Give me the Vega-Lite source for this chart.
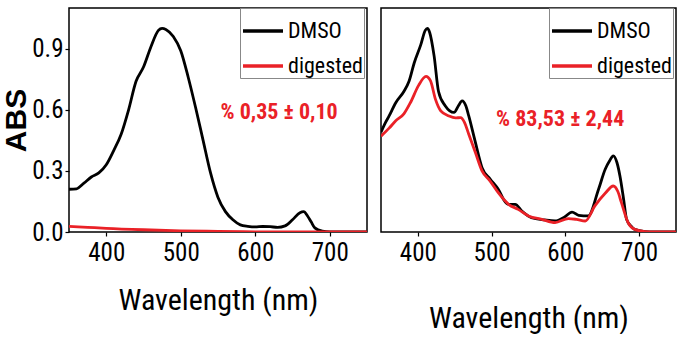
{
  "$schema": "https://vega.github.io/schema/vega-lite/v6.json",
  "padding": {"left": 0, "top": 6, "right": 0, "bottom": 0},
  "background": "white",
  "config": {
    "font": "Roboto Condensed, DejaVu Sans Condensed, Roboto",
    "view": {"stroke": "black", "strokeWidth": 1.5},
    "axis": {"labelFont": "Roboto Condensed, DejaVu Sans Condensed, Roboto", "titleFont": "Roboto Condensed, DejaVu Sans Condensed, Roboto", "labelColor": "black", "titleColor": "black", "domainColor": "black", "tickColor": "black", "grid": false, "labelOverlap": false, "labelFlush": false}
  },
  "datasets": {
    "spectra": [
      {"panel": "A", "series": "DMSO", "wl": 350, "abs": 0.21},
      {"panel": "A", "series": "DMSO", "wl": 360, "abs": 0.212},
      {"panel": "A", "series": "DMSO", "wl": 370, "abs": 0.24},
      {"panel": "A", "series": "DMSO", "wl": 380, "abs": 0.27},
      {"panel": "A", "series": "DMSO", "wl": 390, "abs": 0.29},
      {"panel": "A", "series": "DMSO", "wl": 400, "abs": 0.33},
      {"panel": "A", "series": "DMSO", "wl": 410, "abs": 0.40},
      {"panel": "A", "series": "DMSO", "wl": 420, "abs": 0.48},
      {"panel": "A", "series": "DMSO", "wl": 430, "abs": 0.60},
      {"panel": "A", "series": "DMSO", "wl": 440, "abs": 0.74},
      {"panel": "A", "series": "DMSO", "wl": 450, "abs": 0.81},
      {"panel": "A", "series": "DMSO", "wl": 460, "abs": 0.91},
      {"panel": "A", "series": "DMSO", "wl": 470, "abs": 0.99},
      {"panel": "A", "series": "DMSO", "wl": 475, "abs": 1.0},
      {"panel": "A", "series": "DMSO", "wl": 480, "abs": 0.995},
      {"panel": "A", "series": "DMSO", "wl": 490, "abs": 0.96},
      {"panel": "A", "series": "DMSO", "wl": 500, "abs": 0.89},
      {"panel": "A", "series": "DMSO", "wl": 510, "abs": 0.76},
      {"panel": "A", "series": "DMSO", "wl": 520, "abs": 0.61},
      {"panel": "A", "series": "DMSO", "wl": 530, "abs": 0.45},
      {"panel": "A", "series": "DMSO", "wl": 540, "abs": 0.29},
      {"panel": "A", "series": "DMSO", "wl": 550, "abs": 0.17},
      {"panel": "A", "series": "DMSO", "wl": 560, "abs": 0.10},
      {"panel": "A", "series": "DMSO", "wl": 570, "abs": 0.06},
      {"panel": "A", "series": "DMSO", "wl": 580, "abs": 0.035},
      {"panel": "A", "series": "DMSO", "wl": 590, "abs": 0.028},
      {"panel": "A", "series": "DMSO", "wl": 600, "abs": 0.025},
      {"panel": "A", "series": "DMSO", "wl": 610, "abs": 0.027},
      {"panel": "A", "series": "DMSO", "wl": 620, "abs": 0.026},
      {"panel": "A", "series": "DMSO", "wl": 630, "abs": 0.023},
      {"panel": "A", "series": "DMSO", "wl": 640, "abs": 0.03},
      {"panel": "A", "series": "DMSO", "wl": 650, "abs": 0.06},
      {"panel": "A", "series": "DMSO", "wl": 660, "abs": 0.095},
      {"panel": "A", "series": "DMSO", "wl": 665, "abs": 0.10},
      {"panel": "A", "series": "DMSO", "wl": 670, "abs": 0.08},
      {"panel": "A", "series": "DMSO", "wl": 675, "abs": 0.05},
      {"panel": "A", "series": "DMSO", "wl": 680, "abs": 0.02},
      {"panel": "A", "series": "DMSO", "wl": 690, "abs": 0.004},
      {"panel": "A", "series": "DMSO", "wl": 700, "abs": 0},
      {"panel": "A", "series": "DMSO", "wl": 750, "abs": 0},
      {"panel": "A", "series": "digested", "wl": 350, "abs": 0.028},
      {"panel": "A", "series": "digested", "wl": 375, "abs": 0.023},
      {"panel": "A", "series": "digested", "wl": 400, "abs": 0.018},
      {"panel": "A", "series": "digested", "wl": 450, "abs": 0.011},
      {"panel": "A", "series": "digested", "wl": 500, "abs": 0.006},
      {"panel": "A", "series": "digested", "wl": 550, "abs": 0.003},
      {"panel": "A", "series": "digested", "wl": 600, "abs": 0.001},
      {"panel": "A", "series": "digested", "wl": 650, "abs": 0},
      {"panel": "A", "series": "digested", "wl": 750, "abs": 0},
      {"panel": "B", "series": "DMSO", "wl": 350, "abs": 0.49},
      {"panel": "B", "series": "DMSO", "wl": 355, "abs": 0.53},
      {"panel": "B", "series": "DMSO", "wl": 361, "abs": 0.57},
      {"panel": "B", "series": "DMSO", "wl": 370, "abs": 0.635},
      {"panel": "B", "series": "DMSO", "wl": 381, "abs": 0.69},
      {"panel": "B", "series": "DMSO", "wl": 388, "abs": 0.74},
      {"panel": "B", "series": "DMSO", "wl": 395, "abs": 0.83},
      {"panel": "B", "series": "DMSO", "wl": 404, "abs": 0.92},
      {"panel": "B", "series": "DMSO", "wl": 410, "abs": 0.99},
      {"panel": "B", "series": "DMSO", "wl": 413, "abs": 1.0},
      {"panel": "B", "series": "DMSO", "wl": 416, "abs": 0.98},
      {"panel": "B", "series": "DMSO", "wl": 422, "abs": 0.865},
      {"panel": "B", "series": "DMSO", "wl": 428, "abs": 0.69},
      {"panel": "B", "series": "DMSO", "wl": 437, "abs": 0.62},
      {"panel": "B", "series": "DMSO", "wl": 449, "abs": 0.587},
      {"panel": "B", "series": "DMSO", "wl": 455, "abs": 0.62},
      {"panel": "B", "series": "DMSO", "wl": 460, "abs": 0.644},
      {"panel": "B", "series": "DMSO", "wl": 465, "abs": 0.62},
      {"panel": "B", "series": "DMSO", "wl": 469, "abs": 0.57},
      {"panel": "B", "series": "DMSO", "wl": 478, "abs": 0.44},
      {"panel": "B", "series": "DMSO", "wl": 487, "abs": 0.316},
      {"panel": "B", "series": "DMSO", "wl": 498, "abs": 0.26},
      {"panel": "B", "series": "DMSO", "wl": 509, "abs": 0.21},
      {"panel": "B", "series": "DMSO", "wl": 518, "abs": 0.15},
      {"panel": "B", "series": "DMSO", "wl": 523, "abs": 0.136},
      {"panel": "B", "series": "DMSO", "wl": 532, "abs": 0.136},
      {"panel": "B", "series": "DMSO", "wl": 541, "abs": 0.103},
      {"panel": "B", "series": "DMSO", "wl": 554, "abs": 0.07},
      {"panel": "B", "series": "DMSO", "wl": 572, "abs": 0.059},
      {"panel": "B", "series": "DMSO", "wl": 586, "abs": 0.054},
      {"panel": "B", "series": "DMSO", "wl": 599, "abs": 0.074},
      {"panel": "B", "series": "DMSO", "wl": 609, "abs": 0.098},
      {"panel": "B", "series": "DMSO", "wl": 618, "abs": 0.082},
      {"panel": "B", "series": "DMSO", "wl": 631, "abs": 0.079},
      {"panel": "B", "series": "DMSO", "wl": 645, "abs": 0.21},
      {"panel": "B", "series": "DMSO", "wl": 654, "abs": 0.308},
      {"panel": "B", "series": "DMSO", "wl": 660, "abs": 0.35},
      {"panel": "B", "series": "DMSO", "wl": 665, "abs": 0.374},
      {"panel": "B", "series": "DMSO", "wl": 670, "abs": 0.34},
      {"panel": "B", "series": "DMSO", "wl": 674, "abs": 0.275},
      {"panel": "B", "series": "DMSO", "wl": 679, "abs": 0.16},
      {"panel": "B", "series": "DMSO", "wl": 683, "abs": 0.062},
      {"panel": "B", "series": "DMSO", "wl": 690, "abs": 0.025},
      {"panel": "B", "series": "DMSO", "wl": 694, "abs": 0.013},
      {"panel": "B", "series": "DMSO", "wl": 708, "abs": 0.002},
      {"panel": "B", "series": "DMSO", "wl": 720, "abs": 0},
      {"panel": "B", "series": "DMSO", "wl": 750, "abs": 0},
      {"panel": "B", "series": "digested", "wl": 350, "abs": 0.47},
      {"panel": "B", "series": "digested", "wl": 361, "abs": 0.51},
      {"panel": "B", "series": "digested", "wl": 370, "abs": 0.546},
      {"panel": "B", "series": "digested", "wl": 381, "abs": 0.58},
      {"panel": "B", "series": "digested", "wl": 390, "abs": 0.636},
      {"panel": "B", "series": "digested", "wl": 401, "abs": 0.72},
      {"panel": "B", "series": "digested", "wl": 411, "abs": 0.764},
      {"panel": "B", "series": "digested", "wl": 417, "abs": 0.743},
      {"panel": "B", "series": "digested", "wl": 424, "abs": 0.65},
      {"panel": "B", "series": "digested", "wl": 431, "abs": 0.595},
      {"panel": "B", "series": "digested", "wl": 442, "abs": 0.57},
      {"panel": "B", "series": "digested", "wl": 451, "abs": 0.56},
      {"panel": "B", "series": "digested", "wl": 458, "abs": 0.562},
      {"panel": "B", "series": "digested", "wl": 463, "abs": 0.54},
      {"panel": "B", "series": "digested", "wl": 469, "abs": 0.48},
      {"panel": "B", "series": "digested", "wl": 478, "abs": 0.39},
      {"panel": "B", "series": "digested", "wl": 487, "abs": 0.30},
      {"panel": "B", "series": "digested", "wl": 498, "abs": 0.25},
      {"panel": "B", "series": "digested", "wl": 509, "abs": 0.193},
      {"panel": "B", "series": "digested", "wl": 523, "abs": 0.136},
      {"panel": "B", "series": "digested", "wl": 536, "abs": 0.111},
      {"panel": "B", "series": "digested", "wl": 550, "abs": 0.079},
      {"panel": "B", "series": "digested", "wl": 568, "abs": 0.062},
      {"panel": "B", "series": "digested", "wl": 586, "abs": 0.046},
      {"panel": "B", "series": "digested", "wl": 604, "abs": 0.066},
      {"panel": "B", "series": "digested", "wl": 615, "abs": 0.062},
      {"panel": "B", "series": "digested", "wl": 627, "abs": 0.054},
      {"panel": "B", "series": "digested", "wl": 640, "abs": 0.128},
      {"panel": "B", "series": "digested", "wl": 654, "abs": 0.19},
      {"panel": "B", "series": "digested", "wl": 665, "abs": 0.226},
      {"panel": "B", "series": "digested", "wl": 671, "abs": 0.2},
      {"panel": "B", "series": "digested", "wl": 676, "abs": 0.144},
      {"panel": "B", "series": "digested", "wl": 685, "abs": 0.046},
      {"panel": "B", "series": "digested", "wl": 694, "abs": 0.013},
      {"panel": "B", "series": "digested", "wl": 708, "abs": 0.002},
      {"panel": "B", "series": "digested", "wl": 720, "abs": 0},
      {"panel": "B", "series": "digested", "wl": 750, "abs": 0}
    ],
    "notes": [
      {"panel": "A", "wl": 632, "abs": 0.59, "label": "% 0,35 ± 0,10"},
      {"panel": "B", "wl": 593, "abs": 0.556, "label": "% 83,53 ± 2,44"}
    ]
  },
  "spacing": 12,
  "resolve": {"scale": {"color": "independent"}, "legend": {"color": "independent"}},
  "hconcat": [
    {
      "width": 298,
      "height": 224,
      "layer": [
        {
          "data": {"name": "spectra"},
          "transform": [{"filter": "datum.panel === 'A'"}],
          "mark": {"type": "line", "interpolate": "monotone", "strokeWidth": 2.8, "clip": true},
          "encoding": {
            "x": {"field": "wl", "type": "quantitative", "scale": {"domain": [350, 750], "nice": false, "zero": false},
              "axis": {"title": "Wavelength (nm)", "values": [400, 500, 600, 700], "format": "d", "tickSize": 4, "labelFontSize": 25, "titleFontSize": 30, "titleFontWeight": "normal", "labelPadding": 4, "titlePadding": 20, "domain": false, "tickWidth": 1.2}},
            "y": {"field": "abs", "type": "quantitative", "scale": {"domain": [0, 1.1], "nice": false},
              "axis": {"title": "ABS", "values": [0, 0.15, 0.3, 0.45, 0.6, 0.75, 0.9, 1.05], "labelExpr": "abs(round(datum.value*100) % 30) > 0 ? '' : format(datum.value, '.1f')", "tickSize": {"condition": {"test": "abs(round(datum.value*100) % 30) > 0", "value": 2}, "value": 4}, "labelFontSize": 25, "titleFontSize": 30, "titleFont": "Liberation Sans", "titleFontWeight": "bold", "labelPadding": 2, "titlePadding": 0, "domain": false, "tickWidth": 1.2}},
            "color": {"field": "series", "type": "nominal", "scale": {"domain": ["DMSO", "digested"], "range": ["#000000", "#ea2127"]},
              "legend": {"title": null, "orient": "none", "legendX": 171, "legendY": 0, "symbolType": "stroke", "symbolSize": 1600, "symbolStrokeWidth": 3.5, "labelFontSize": 22, "labelFont": "Roboto Condensed, DejaVu Sans Condensed, Roboto", "labelColor": "black", "labelOffset": 3, "padding": 1, "rowPadding": 2, "strokeColor": "#888888", "fillColor": "white", "labelLimit": 200}}
          }
        },
        {
          "data": {"name": "notes"},
          "transform": [{"filter": "datum.panel === 'A'"}],
          "mark": {"type": "text", "fontSize": 22, "fontWeight": "bold", "color": "#ea2127", "font": "Roboto Condensed, DejaVu Sans Condensed, Roboto"},
          "encoding": {"x": {"field": "wl", "type": "quantitative"}, "y": {"field": "abs", "type": "quantitative"}, "text": {"field": "label"}}
        }
      ]
    },
    {
      "width": 295,
      "height": 224,
      "layer": [
        {
          "data": {"name": "spectra"},
          "transform": [{"filter": "datum.panel === 'B'"}],
          "mark": {"type": "line", "interpolate": "monotone", "strokeWidth": 2.8, "clip": true},
          "encoding": {
            "x": {"field": "wl", "type": "quantitative", "scale": {"domain": [350, 750], "nice": false, "zero": false},
              "axis": {"title": "Wavelength (nm)", "values": [400, 500, 600, 700], "format": "d", "tickSize": 4, "labelFontSize": 25, "titleFontSize": 30, "titleFontWeight": "normal", "labelPadding": 4, "titlePadding": 38, "domain": false, "tickWidth": 1.2}},
            "y": {"field": "abs", "type": "quantitative", "scale": {"domain": [0, 1.1], "nice": false},
              "axis": {"title": null, "labels": false, "ticks": false, "domain": false}},
            "color": {"field": "series", "type": "nominal", "scale": {"domain": ["DMSO", "digested"], "range": ["#000000", "#ea2127"]},
              "legend": {"title": null, "orient": "none", "legendX": 168, "legendY": 0, "symbolType": "stroke", "symbolSize": 1600, "symbolStrokeWidth": 3.5, "labelFontSize": 22, "labelFont": "Roboto Condensed, DejaVu Sans Condensed, Roboto", "labelColor": "black", "labelOffset": 3, "padding": 1, "rowPadding": 2, "strokeColor": "#888888", "fillColor": "white", "labelLimit": 200}}
          }
        },
        {
          "data": {"name": "notes"},
          "transform": [{"filter": "datum.panel === 'B'"}],
          "mark": {"type": "text", "fontSize": 22, "fontWeight": "bold", "color": "#ea2127", "font": "Roboto Condensed, DejaVu Sans Condensed, Roboto"},
          "encoding": {"x": {"field": "wl", "type": "quantitative"}, "y": {"field": "abs", "type": "quantitative"}, "text": {"field": "label"}}
        }
      ]
    }
  ]
}
